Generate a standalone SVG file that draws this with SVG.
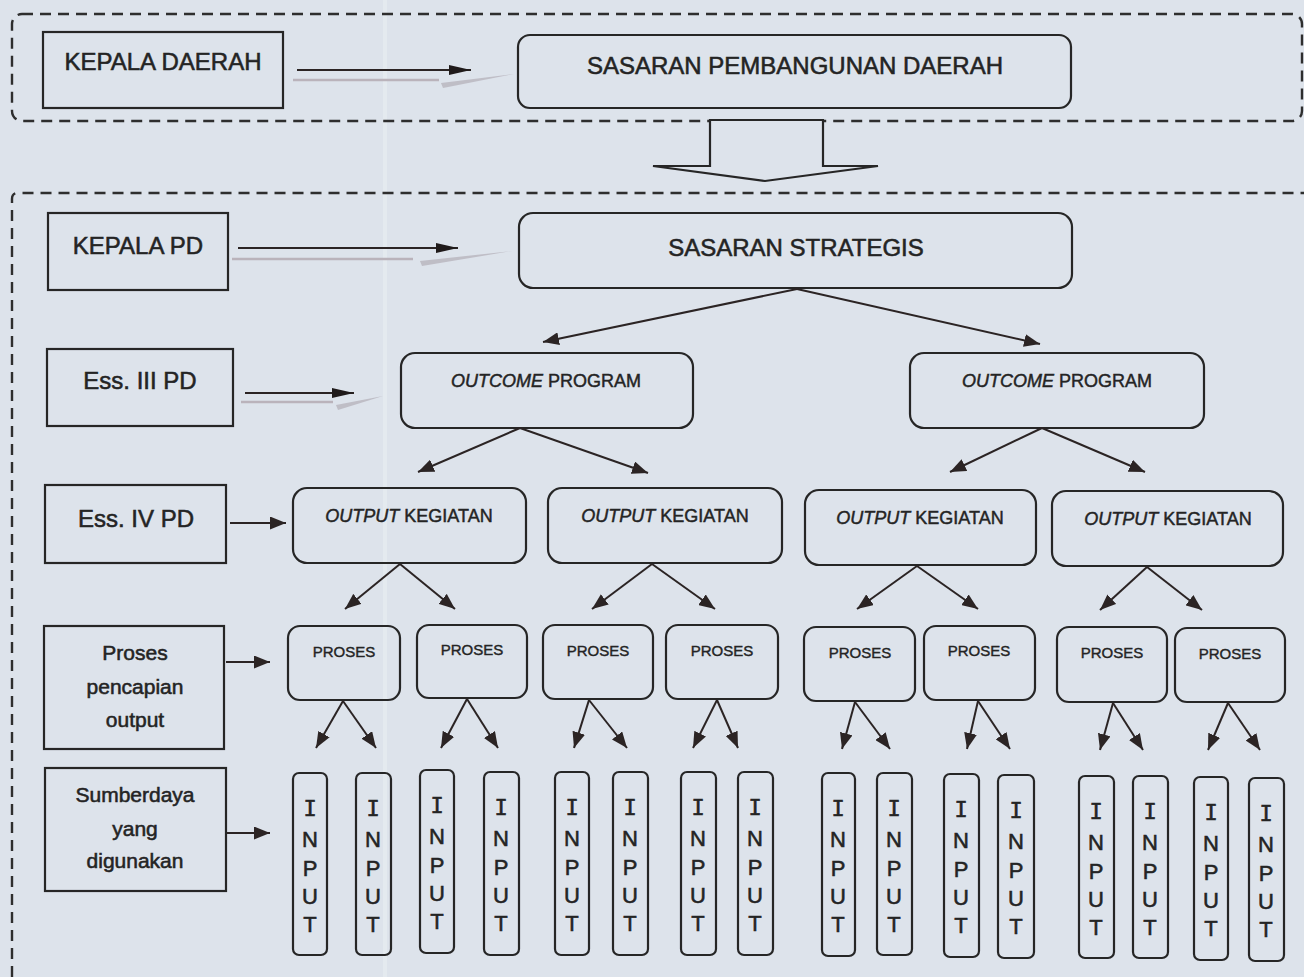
<svg xmlns="http://www.w3.org/2000/svg" width="1304" height="977" viewBox="0 0 1304 977">
  <style>
    .bg{fill:#dde3eb}
    .fold{fill:#eef1f5;opacity:.45}
    .box{fill:none;stroke:#262626;stroke-width:2.2}
    .dash{fill:none;stroke:#2e2e2e;stroke-width:2.4;stroke-dasharray:11 7}
    .t{font-family:"Liberation Sans",Arial,sans-serif;fill:#242424;stroke:#242424;stroke-width:0.55;text-anchor:middle}
    .s24{font-size:24px}
    .s21{font-size:21px}
    .s18{font-size:18px;stroke-width:0.45}
    .s15{font-size:15px;stroke-width:0.4}
    .s22{font-size:22px}
    .i{font-style:italic}
    .mono{font-family:"DejaVu Sans Mono","Liberation Mono",monospace}
    .c{fill:none;stroke:#2b2424;stroke-width:2}
    .ghost{fill:none;stroke:#bab3bb;stroke-width:2.5}
    .ghostw{fill:#b2aeb6;opacity:.7}
  </style>
  <defs>
    <marker id="slim" markerUnits="userSpaceOnUse" markerWidth="22" markerHeight="10" refX="22" refY="5" orient="auto">
      <path d="M0,0 L22,5 L0,10 Z" fill="#1f1a1a"/>
    </marker>
    <marker id="head" markerUnits="userSpaceOnUse" markerWidth="16" markerHeight="13" refX="16" refY="6.5" orient="auto">
      <path d="M0,0 L16,6.5 L0,13 Z" fill="#2b2424"/>
    </marker>
  </defs>

  <!-- paper -->
  <rect class="bg" x="0" y="0" width="1304" height="977"/>
  <rect class="fold" x="383" y="0" width="4" height="977"/>

  <!-- dashed frames -->
  <g id="frames">
    <rect class="dash" x="12" y="14" width="1290" height="107" rx="10"/>
    <path class="dash" d="M12,977 V199 Q12,193 18,193 H1304"/>
  </g>

  <!-- block arrow between the two levels -->
  <g id="block-arrow">
    <path d="M710,120 V166 H653 L765,181 L878,166 H823 V120 Z" fill="#dde3eb" stroke="#262626" stroke-width="2.2" stroke-linejoin="miter"/>
  </g>

  <!-- level 1 -->
  <g id="kepala-daerah">
    <rect class="box" x="43" y="32" width="240" height="76"/>
    <text class="t s24" x="163" y="70">KEPALA DAERAH</text>
  </g>
  <g id="sasaran-pembangunan">
    <rect class="box" x="518" y="35" width="553" height="73" rx="12"/>
    <text class="t s24" x="795" y="74">SASARAN PEMBANGUNAN DAERAH</text>
  </g>

  <!-- level 2 -->
  <g id="kepala-pd">
    <rect class="box" x="48" y="213" width="180" height="77"/>
    <text class="t s24" x="138" y="254">KEPALA PD</text>
  </g>
  <g id="sasaran-strategis">
    <rect class="box" x="519" y="213" width="553" height="75" rx="14"/>
    <text class="t s24" x="796" y="256">SASARAN STRATEGIS</text>
  </g>

  <g id="ess-iii">
    <rect class="box" x="47" y="349" width="186" height="77"/>
    <text class="t s24" x="140" y="389">Ess. III PD</text>
  </g>
  <g id="outcome-1">
    <rect class="box" x="401" y="353" width="292" height="75" rx="14"/>
    <text class="t s18" x="546" y="387"><tspan class="i">OUTCOME</tspan> PROGRAM</text>
  </g>
  <g id="outcome-2">
    <rect class="box" x="910" y="353" width="294" height="75" rx="14"/>
    <text class="t s18" x="1057" y="387"><tspan class="i">OUTCOME</tspan> PROGRAM</text>
  </g>

  <g id="ess-iv">
    <rect class="box" x="45" y="485" width="181" height="78"/>
    <text class="t s24" x="136" y="527">Ess. IV PD</text>
  </g>
  <g id="output-1">
    <rect class="box" x="293" y="488" width="233" height="75" rx="14"/>
    <text class="t s18" x="409" y="522"><tspan class="i">OUTPUT</tspan> KEGIATAN</text>
  </g>
  <g id="output-2">
    <rect class="box" x="548" y="488" width="234" height="75" rx="14"/>
    <text class="t s18" x="665" y="522"><tspan class="i">OUTPUT</tspan> KEGIATAN</text>
  </g>
  <g id="output-3">
    <rect class="box" x="805" y="490" width="231" height="75" rx="14"/>
    <text class="t s18" x="920" y="524"><tspan class="i">OUTPUT</tspan> KEGIATAN</text>
  </g>
  <g id="output-4">
    <rect class="box" x="1052" y="491" width="231" height="75" rx="14"/>
    <text class="t s18" x="1168" y="525"><tspan class="i">OUTPUT</tspan> KEGIATAN</text>
  </g>

  <g id="proses-label">
    <rect class="box" x="44" y="626" width="180" height="123"/>
    <text class="t s21" x="135" y="660">Proses</text>
    <text class="t s21" x="135" y="694">pencapian</text>
    <text class="t s21" x="135" y="727">output</text>
  </g>
  <g id="sumberdaya-label">
    <rect class="box" x="45" y="768" width="181" height="123"/>
    <text class="t s21" x="135" y="802">Sumberdaya</text>
    <text class="t s21" x="135" y="836">yang</text>
    <text class="t s21" x="135" y="868">digunakan</text>
  </g>

  <!-- process boxes -->
  <g id="proses-1"><rect class="box" x="288" y="626" width="112" height="74" rx="12"/><text class="t s15" x="344" y="657">PROSES</text></g>
  <g id="proses-2"><rect class="box" x="417" y="625" width="110" height="73" rx="12"/><text class="t s15" x="472" y="655">PROSES</text></g>
  <g id="proses-3"><rect class="box" x="543" y="625" width="110" height="74" rx="12"/><text class="t s15" x="598" y="656">PROSES</text></g>
  <g id="proses-4"><rect class="box" x="666" y="625" width="112" height="74" rx="12"/><text class="t s15" x="722" y="656">PROSES</text></g>
  <g id="proses-5"><rect class="box" x="804" y="627" width="111" height="74" rx="12"/><text class="t s15" x="860" y="658">PROSES</text></g>
  <g id="proses-6"><rect class="box" x="924" y="626" width="111" height="74" rx="12"/><text class="t s15" x="979" y="656">PROSES</text></g>
  <g id="proses-7"><rect class="box" x="1057" y="627" width="110" height="75" rx="12"/><text class="t s15" x="1112" y="658">PROSES</text></g>
  <g id="proses-8"><rect class="box" x="1175" y="628" width="110" height="74" rx="12"/><text class="t s15" x="1230" y="659">PROSES</text></g>

  <!-- input columns -->
  <g id="input-1"><rect class="box" x="293" y="773" width="34" height="182" rx="6"/><text class="t s22" x="310"><tspan class="mono" x="310" y="816">I</tspan><tspan x="310" y="847">N</tspan><tspan x="310" y="876">P</tspan><tspan x="310" y="904">U</tspan><tspan x="310" y="932">T</tspan></text></g>
  <g id="input-2"><rect class="box" x="356" y="773" width="35" height="182" rx="6"/><text class="t s22" x="373"><tspan class="mono" x="373" y="816">I</tspan><tspan x="373" y="847">N</tspan><tspan x="373" y="876">P</tspan><tspan x="373" y="904">U</tspan><tspan x="373" y="932">T</tspan></text></g>
  <g id="input-3"><rect class="box" x="420" y="770" width="34" height="183" rx="6"/><text class="t s22" x="437"><tspan class="mono" x="437" y="813">I</tspan><tspan x="437" y="844">N</tspan><tspan x="437" y="873">P</tspan><tspan x="437" y="901">U</tspan><tspan x="437" y="929">T</tspan></text></g>
  <g id="input-4"><rect class="box" x="484" y="772" width="35" height="183" rx="6"/><text class="t s22" x="501"><tspan class="mono" x="501" y="815">I</tspan><tspan x="501" y="846">N</tspan><tspan x="501" y="875">P</tspan><tspan x="501" y="903">U</tspan><tspan x="501" y="931">T</tspan></text></g>
  <g id="input-5"><rect class="box" x="555" y="772" width="34" height="183" rx="6"/><text class="t s22" x="572"><tspan class="mono" x="572" y="815">I</tspan><tspan x="572" y="846">N</tspan><tspan x="572" y="875">P</tspan><tspan x="572" y="903">U</tspan><tspan x="572" y="931">T</tspan></text></g>
  <g id="input-6"><rect class="box" x="613" y="772" width="35" height="183" rx="6"/><text class="t s22" x="630"><tspan class="mono" x="630" y="815">I</tspan><tspan x="630" y="846">N</tspan><tspan x="630" y="875">P</tspan><tspan x="630" y="903">U</tspan><tspan x="630" y="931">T</tspan></text></g>
  <g id="input-7"><rect class="box" x="681" y="772" width="35" height="183" rx="6"/><text class="t s22" x="698"><tspan class="mono" x="698" y="815">I</tspan><tspan x="698" y="846">N</tspan><tspan x="698" y="875">P</tspan><tspan x="698" y="903">U</tspan><tspan x="698" y="931">T</tspan></text></g>
  <g id="input-8"><rect class="box" x="738" y="772" width="35" height="183" rx="6"/><text class="t s22" x="755"><tspan class="mono" x="755" y="815">I</tspan><tspan x="755" y="846">N</tspan><tspan x="755" y="875">P</tspan><tspan x="755" y="903">U</tspan><tspan x="755" y="931">T</tspan></text></g>
  <g id="input-9"><rect class="box" x="822" y="773" width="33" height="183" rx="6"/><text class="t s22" x="838"><tspan class="mono" x="838" y="816">I</tspan><tspan x="838" y="847">N</tspan><tspan x="838" y="876">P</tspan><tspan x="838" y="904">U</tspan><tspan x="838" y="932">T</tspan></text></g>
  <g id="input-10"><rect class="box" x="877" y="773" width="35" height="182" rx="6"/><text class="t s22" x="894"><tspan class="mono" x="894" y="816">I</tspan><tspan x="894" y="847">N</tspan><tspan x="894" y="876">P</tspan><tspan x="894" y="904">U</tspan><tspan x="894" y="932">T</tspan></text></g>
  <g id="input-11"><rect class="box" x="944" y="774" width="35" height="183" rx="6"/><text class="t s22" x="961"><tspan class="mono" x="961" y="817">I</tspan><tspan x="961" y="848">N</tspan><tspan x="961" y="877">P</tspan><tspan x="961" y="905">U</tspan><tspan x="961" y="933">T</tspan></text></g>
  <g id="input-12"><rect class="box" x="998" y="775" width="36" height="183" rx="6"/><text class="t s22" x="1016"><tspan class="mono" x="1016" y="818">I</tspan><tspan x="1016" y="849">N</tspan><tspan x="1016" y="878">P</tspan><tspan x="1016" y="906">U</tspan><tspan x="1016" y="934">T</tspan></text></g>
  <g id="input-13"><rect class="box" x="1079" y="776" width="35" height="182" rx="6"/><text class="t s22" x="1096"><tspan class="mono" x="1096" y="819">I</tspan><tspan x="1096" y="850">N</tspan><tspan x="1096" y="879">P</tspan><tspan x="1096" y="907">U</tspan><tspan x="1096" y="935">T</tspan></text></g>
  <g id="input-14"><rect class="box" x="1133" y="776" width="35" height="182" rx="6"/><text class="t s22" x="1150"><tspan class="mono" x="1150" y="819">I</tspan><tspan x="1150" y="850">N</tspan><tspan x="1150" y="879">P</tspan><tspan x="1150" y="907">U</tspan><tspan x="1150" y="935">T</tspan></text></g>
  <g id="input-15"><rect class="box" x="1194" y="777" width="34" height="183" rx="6"/><text class="t s22" x="1211"><tspan class="mono" x="1211" y="820">I</tspan><tspan x="1211" y="851">N</tspan><tspan x="1211" y="880">P</tspan><tspan x="1211" y="908">U</tspan><tspan x="1211" y="936">T</tspan></text></g>
  <g id="input-16"><rect class="box" x="1249" y="778" width="35" height="183" rx="6"/><text class="t s22" x="1266"><tspan class="mono" x="1266" y="821">I</tspan><tspan x="1266" y="852">N</tspan><tspan x="1266" y="881">P</tspan><tspan x="1266" y="909">U</tspan><tspan x="1266" y="937">T</tspan></text></g>

  <!-- connectors -->
  <g id="connectors">
    <!-- faint offset strokes under the first three arrows -->
    <line class="ghost" x1="293" y1="80" x2="439" y2="80"/>
    <polygon class="ghostw" points="441,83 514,74 443,88"/>
    <line class="ghost" x1="232" y1="259" x2="413" y2="259"/>
    <polygon class="ghostw" points="420,261 512,251 422,266"/>
    <line class="ghost" x1="241" y1="402" x2="333" y2="402"/>
    <polygon class="ghostw" points="336,405 383,396 338,410"/>

    <line class="c" x1="297" y1="70" x2="471" y2="70" marker-end="url(#slim)"/>
    <line class="c" x1="238" y1="248" x2="458" y2="248" marker-end="url(#slim)"/>
    <line class="c" x1="245" y1="393" x2="354" y2="393" marker-end="url(#slim)"/>
    <line class="c" x1="230" y1="523" x2="286" y2="523" marker-end="url(#head)"/>
    <line class="c" x1="226" y1="662" x2="270" y2="662" marker-end="url(#head)"/>
    <line class="c" x1="227" y1="833" x2="270" y2="833" marker-end="url(#head)"/>

    <line class="c" x1="797" y1="289" x2="543" y2="342" marker-end="url(#head)"/>
    <line class="c" x1="797" y1="289" x2="1040" y2="344" marker-end="url(#head)"/>

    <line class="c" x1="520" y1="428" x2="418" y2="472" marker-end="url(#head)"/>
    <line class="c" x1="520" y1="428" x2="648" y2="473" marker-end="url(#head)"/>
    <line class="c" x1="1042" y1="428" x2="950" y2="472" marker-end="url(#head)"/>
    <line class="c" x1="1042" y1="428" x2="1145" y2="472" marker-end="url(#head)"/>

    <line class="c" x1="400" y1="564" x2="345" y2="609" marker-end="url(#head)"/>
    <line class="c" x1="400" y1="564" x2="455" y2="609" marker-end="url(#head)"/>
    <line class="c" x1="652" y1="564" x2="592" y2="609" marker-end="url(#head)"/>
    <line class="c" x1="652" y1="564" x2="715" y2="609" marker-end="url(#head)"/>
    <line class="c" x1="917" y1="566" x2="857" y2="609" marker-end="url(#head)"/>
    <line class="c" x1="917" y1="566" x2="978" y2="609" marker-end="url(#head)"/>
    <line class="c" x1="1147" y1="567" x2="1100" y2="610" marker-end="url(#head)"/>
    <line class="c" x1="1147" y1="567" x2="1202" y2="610" marker-end="url(#head)"/>

    <line class="c" x1="343" y1="701" x2="316" y2="748" marker-end="url(#head)"/>
    <line class="c" x1="343" y1="701" x2="376" y2="748" marker-end="url(#head)"/>
    <line class="c" x1="467" y1="699" x2="441" y2="748" marker-end="url(#head)"/>
    <line class="c" x1="467" y1="699" x2="498" y2="748" marker-end="url(#head)"/>
    <line class="c" x1="589" y1="700" x2="574" y2="748" marker-end="url(#head)"/>
    <line class="c" x1="589" y1="700" x2="627" y2="748" marker-end="url(#head)"/>
    <line class="c" x1="717" y1="700" x2="693" y2="748" marker-end="url(#head)"/>
    <line class="c" x1="717" y1="700" x2="738" y2="748" marker-end="url(#head)"/>
    <line class="c" x1="855" y1="702" x2="842" y2="749" marker-end="url(#head)"/>
    <line class="c" x1="855" y1="702" x2="890" y2="749" marker-end="url(#head)"/>
    <line class="c" x1="978" y1="701" x2="967" y2="749" marker-end="url(#head)"/>
    <line class="c" x1="978" y1="701" x2="1010" y2="749" marker-end="url(#head)"/>
    <line class="c" x1="1113" y1="703" x2="1100" y2="750" marker-end="url(#head)"/>
    <line class="c" x1="1113" y1="703" x2="1143" y2="750" marker-end="url(#head)"/>
    <line class="c" x1="1228" y1="703" x2="1208" y2="750" marker-end="url(#head)"/>
    <line class="c" x1="1228" y1="703" x2="1260" y2="750" marker-end="url(#head)"/>
  </g>
</svg>
